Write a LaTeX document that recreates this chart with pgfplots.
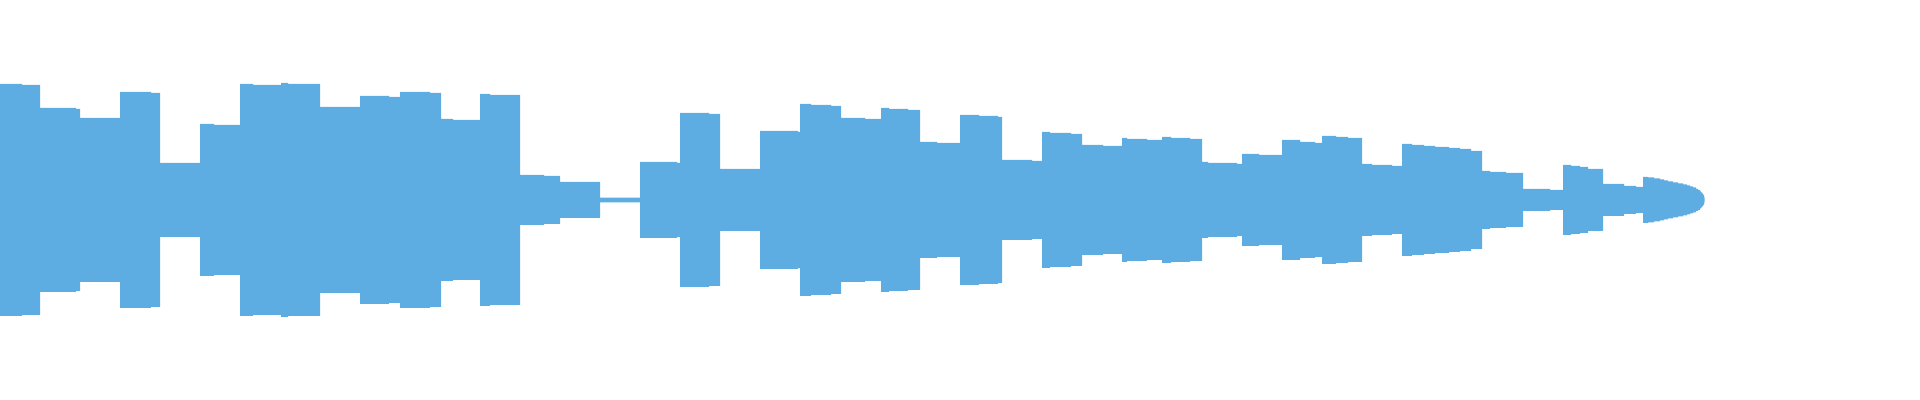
\documentclass[border=0pt]{standalone}
\usepackage{pgfplots}
\pgfplotsset{compat=1.18}
\usepackage{pgfplotstable}
\usepgfplotslibrary{fillbetween}

\definecolor{wave}{HTML}{5DADE2}

% half-height of the waveform (image pixels) at the left edge of each step
\pgfplotstableread{
x h
0 116
22 115
40 92
76 91
80 82
120 108
151 107
160 37
200 76
214 75
240 116
253 115
281 117
288 116
320 93
360 104
389 103
400 108
430 107
441 81
453 80
480 106
490 105
520 25
544 24
560 18
600 2.3
640 38
677 37
680 87
709 86
720 31
760 69
798 68
800 96
811 95
831 94
841 82
865 81
881 92
889 91
908 90
920 58
937 57
960 85
979 84
998 83
1002 40
1032 39
1042 68
1050 67
1071 66
1082 55
1103 54
1122 62
1127 61
1147 60
1162 63
1171 62
1190 61
1202 38
1208 37
1237 36
1242 46
1259 45
1282 60
1300 58
1315 57
1322 64
1336 63
1348 62
1362 36
1372 35
1392 34
1402 56
1412 55
1424 54
1435 53
1449 52
1460 51
1471 49
1482 29
1490 28
1506 27
1523 11
1550 10
1563 35
1571 34
1580 33
1588 31
1603 16
1624 14
1636 13
1643 23
1648 22.5
1654 21.5
1660 20.5
1664 19.5
1668 18.5
1673 17.5
1678 16.5
1683 15.5
1687 14.5
1690 13.5
1693 12.5
1696 11
1698 10
1700 8.5
1701 7.5
1702 6.5
1703 5
1704 2.5
1704.5 0
}\wavetable

\begin{document}
\begin{tikzpicture}
\begin{axis}[
    width=19.2cm, height=4cm,
    scale only axis,
    xmin=0, xmax=1920,
    ymin=-200, ymax=200,
    ticks=none,
    axis line style={draw=none},
]
\addplot[name path=top, const plot, draw=none] table[x=x, y=h] {\wavetable};
\addplot[name path=bot, const plot, draw=none] table[x=x, y expr=-\thisrow{h}] {\wavetable};
\addplot[wave, draw=none] fill between[of=top and bot];
\end{axis}
\end{tikzpicture}
\end{document}
